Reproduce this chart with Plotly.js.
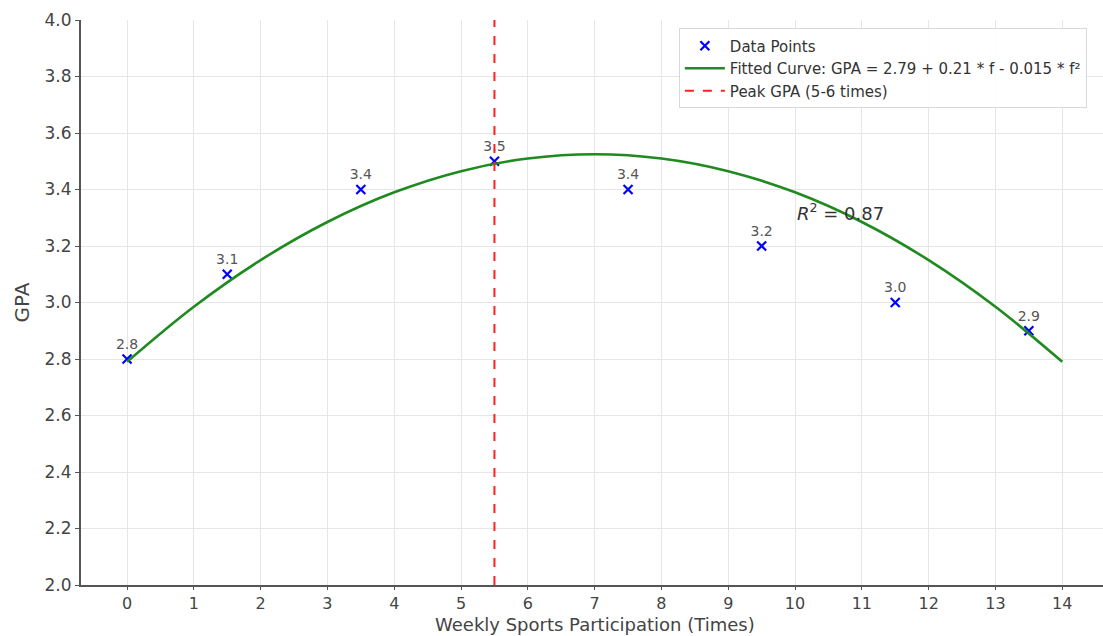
<!DOCTYPE html>
<html>
<head>
<meta charset="utf-8">
<script src="https://cdn.plot.ly/plotly-3.0.1.min.js"></script>
<style>html,body{margin:0;padding:0;background:#fff;}#chart{width:1103px;height:636px;}</style>
</head>
<body>
<div id="chart"></div>
<script>
// Data points
const participation = [0, 1.5, 3.5, 5.5, 7.5, 9.5, 11.5, 13.5];
const gpa = [2.8, 3.1, 3.4, 3.5, 3.4, 3.2, 3.0, 2.9];
const gpaLabels = ["2.8", "3.1", "3.4", "3.5", "3.4", "3.2", "3.0", "2.9"];

// Fitted curve at integer x
const curveX = [0, 1, 2, 3, 4, 5, 6, 7, 8, 9, 10, 11, 12, 13, 14];
const curveY = [2.79, 2.985, 3.15, 3.285, 3.39, 3.465, 3.51, 3.525, 3.51, 3.465, 3.39, 3.285, 3.15, 2.985, 2.79];

const peakX = 5.5;
const xTicks = [0,1,2,3,4,5,6,7,8,9,10,11,12,13,14];
const yTicks = [2.0,2.2,2.4,2.6,2.8,3.0,3.2,3.4,3.6,3.8,4.0];
const yTickLabels = ["2.0","2.2","2.4","2.6","2.8","3.0","3.2","3.4","3.6","3.8","4.0"];
const xTitle = "Weekly Sports Participation (Times)";

const font = "DejaVu Sans, sans-serif";

const traces = [
  {
    x: participation, y: gpa, mode: "markers+text", type: "scatter",
    name: "Data Points",
    text: gpaLabels, textposition: "top center",
    textfont: {family: font, size: 14, color: "#555"},
    marker: {symbol: "x-thin-open", size: 9, color: "#0000ff", line: {color: "#0000ff", width: 2.2}},
    cliponaxis: false
  },
  {
    x: curveX, y: curveY, mode: "lines", type: "scatter",
    name: "Fitted Curve: GPA = 2.79 + 0.21 * f - 0.015 * f²",
    line: {color: "#1f8a1f", width: 2.6, shape: "spline"}
  },
  {
    x: [peakX, peakX], y: [2.0, 4.0], mode: "lines", type: "scatter",
    name: "Peak GPA (5-6 times)",
    line: {color: "#ff2020", width: 2, dash: "dash"}
  }
];

const layout = {
  width: 1103, height: 636,
  margin: {l: 81, r: 0, t: 20, b: 51},
  paper_bgcolor: "#fff", plot_bgcolor: "#fff",
  font: {family: font, color: "#444"},
  showlegend: true,
  legend: {
    x: 0.585, y: 0.985, xanchor: "left", yanchor: "top",
    bgcolor: "rgba(255,255,255,0.9)", bordercolor: "#d8d8d8", borderwidth: 1,
    font: {family: font, size: 15, color: "#333"},
    tracegroupgap: 0, itemwidth: 40
  },
  xaxis: {
    range: [-0.689, 14.61],
    tickvals: xTicks, ticktext: xTicks.map(String),
    showgrid: true, gridcolor: "#e6e6e6", gridwidth: 1,
    zeroline: false, showline: true, linecolor: "#555", linewidth: 2,
    ticks: "outside", ticklen: 3, tickcolor: "#555",
    tickfont: {family: font, size: 16, color: "#444"},
    automargin: false
  },
  yaxis: {
    range: [2.0, 4.0],
    tickvals: yTicks, ticktext: yTickLabels,
    showgrid: true, gridcolor: "#e6e6e6", gridwidth: 1,
    zeroline: false, showline: true, linecolor: "#555", linewidth: 2,
    ticks: "outside", ticklen: 4, tickcolor: "#555",
    tickfont: {family: font, size: 17, color: "#444"},
    automargin: false,
    title: {text: "GPA", font: {family: font, size: 20, color: "#444"}, standoff: 10}
  },
  annotations: [
    {
      x: 10, y: 3.32, xref: "x", yref: "y", xanchor: "left", yanchor: "middle",
      text: "<i>R</i><sup>2</sup> = 0.87", showarrow: false,
      font: {family: font, size: 18, color: "#333"}
    },
    {
      x: 0.503, y: -0.0705, xref: "paper", yref: "paper", xanchor: "center", yanchor: "middle",
      text: xTitle, showarrow: false, borderpad: 0,
      font: {family: font, size: 18, color: "#444"}
    }
  ]
};

Plotly.newPlot("chart", traces, layout, {displayModeBar: false, responsive: false});
</script>
</body>
</html>
